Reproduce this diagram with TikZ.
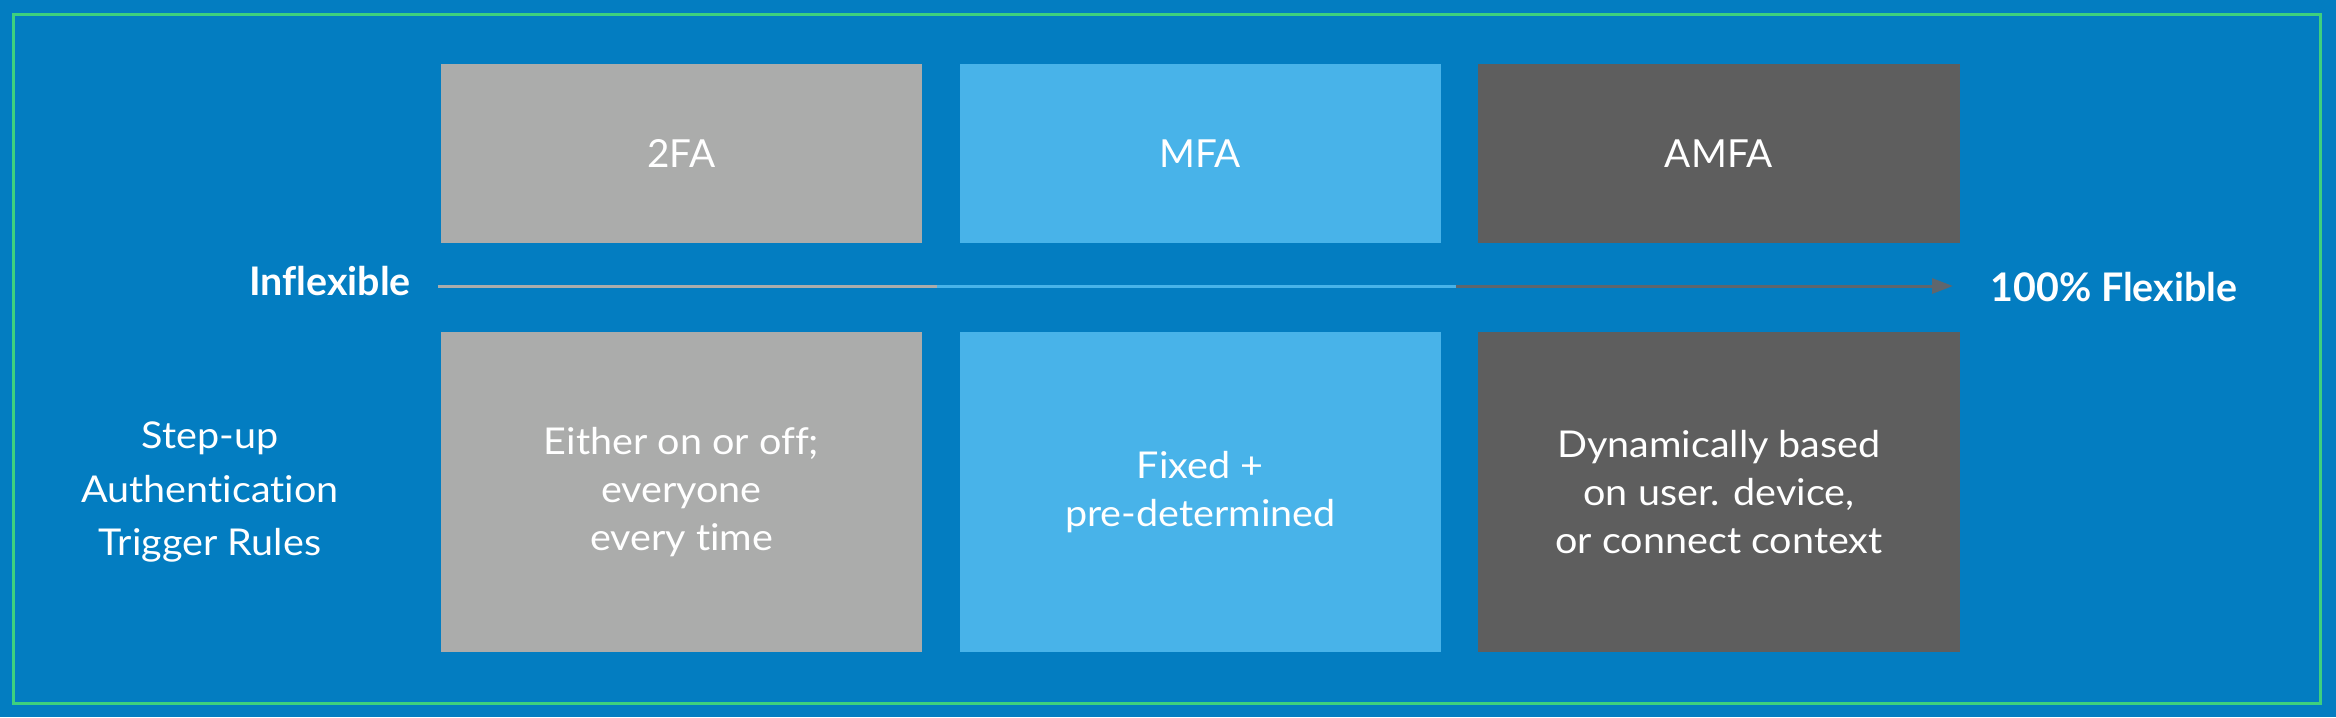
\documentclass[tikz,border=0pt]{standalone}
\usepackage{fontspec}
\setmainfont{Lato}[Ligatures=NoCommon]
\newfontfamily\widelato{Lato}[Ligatures=NoCommon, FakeStretch=1.07]
\usepackage{xcolor}
\usepackage{tikz}
\usetikzlibrary{positioning, arrows.meta}

\definecolor{bgblue}{RGB}{3,125,193}
\definecolor{framegreen}{RGB}{62,208,126}
\definecolor{tiergray}{RGB}{171,172,171}
\definecolor{tierblue}{RGB}{72,179,233}
\definecolor{tierdark}{RGB}{94,94,94}
\definecolor{arrowgray}{RGB}{95,102,109}

\begin{document}
\begin{tikzpicture}[x=0.01cm, y=-0.01cm, font=\widelato\fontsize{10.5}{13.7}\selectfont]

% --- Styles ---
\tikzset{
    tierbox/.style={rectangle, inner sep=0pt, minimum width=4.81cm, text=white, align=center},
    headbox/.style={tierbox, minimum height=1.79cm, font=\rmfamily\fontsize{11}{13}\selectfont},
    rulebox/.style={tierbox, minimum height=3.20cm},
    scalelabel/.style={text=white, inner sep=0pt, font=\rmfamily\fontsize{11.2}{13}\selectfont\bfseries},
    scaleline/.style={line width=0.03cm},
}

% --- Canvas and frame ---
\fill[bgblue] (0,0) rectangle (2336,717);
\useasboundingbox (0,0) rectangle (2336,717);
\draw[framegreen, line width=0.03cm] (13.5,14.5) rectangle (2320.5,703.5);

% --- Row 1: tier names ---
\node[headbox, fill=tiergray] (twofa) at (681.5,153.5) {2FA};
\node[headbox, fill=tierblue, right=0.36cm of twofa] (mfa) {MFA};
\node[headbox, fill=tierdark, right=0.36cm of mfa] (amfa) {AMFA};

% --- Row 2: trigger rules ---
\node[rulebox, fill=tiergray] (twofarule) at (681.5,492) {Either on or off;\\everyone\\every time};
\node[rulebox, fill=tierblue, right=0.36cm of twofarule] (mfarule) {Fixed +\\pre-determined};
\node[rulebox, fill=tierdark, right=0.36cm of mfarule] (amfarule) {Dynamically based\\on user. device,\\or connect context};

\node[text=white, align=center, font=\widelato\fontsize{10.5}{15.1}\selectfont] (trigger) at (210,492) {Step-up\\Authentication\\Trigger Rules};

% --- Flexibility scale ---
\node[scalelabel] (inflex) at (330,281) {Inflexible};
\node[scalelabel] (fullflex) at (2114,287) {100\% Flexible};

\coordinate (scalestart) at (438,286);
\coordinate (split1) at (937,286);
\coordinate (split2) at (1456,286);
\coordinate (scaletip) at (1953,286);

\draw[scaleline, tiergray] (scalestart) -- (split1);
\draw[scaleline, tierblue] (split1) -- (split2);
\draw[scaleline, arrowgray, -{Triangle[length=0.21cm, width=0.15cm]}] (split2) -- (scaletip);

\end{tikzpicture}
\end{document}
